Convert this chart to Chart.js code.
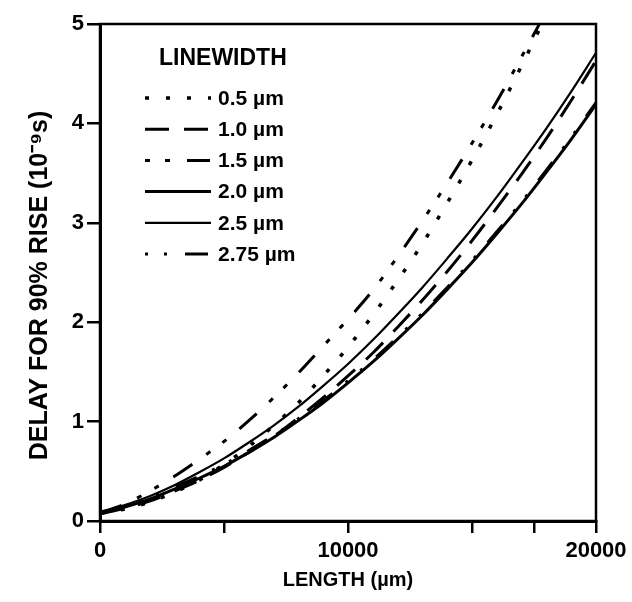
<!DOCTYPE html>
<html>
<head>
<meta charset="utf-8">
<script src="https://cdn.jsdelivr.net/npm/chart.js@4.4.0/dist/chart.umd.min.js"></script>
<style>
  body { margin: 0; background: #fff; }
  #wrap { width: 632px; height: 602px; }
</style>
</head>
<body>
<div id="wrap"><canvas id="myChart" width="632" height="602"></canvas></div>
<script>
// length along the line, um
const lengths = [0, 1000, 2000, 3000, 4000, 5000, 6000, 7000, 8000, 9000, 10000,
  11000, 12000, 13000, 14000, 15000, 16000, 17000, 18000, 19000, 20000]

// delay for 90% rise, 1e-9 s
const delay05 = [0.08, 0.12, 0.19, 0.29, 0.41, 0.57, 0.75, 0.96, 1.19, 1.46, 1.75,
  2.07, 2.42, 2.79, 3.20, 3.63, 4.09, 4.58, 5.09]
const delay10 = [0.07, 0.13, 0.20, 0.30, 0.41, 0.54, 0.69, 0.85, 1.04, 1.24, 1.46,
  1.69, 1.95, 2.22, 2.51, 2.82, 3.15, 3.49, 3.85, 4.23, 4.63]
const delay15 = [0.08, 0.17, 0.30, 0.45, 0.62, 0.80, 1.01, 1.24, 1.49, 1.76, 2.03,
  2.32, 2.66, 3.02, 3.40, 3.80, 4.22, 4.67, 5.13]
const delay20 = [0.08, 0.14, 0.22, 0.32, 0.43, 0.55, 0.69, 0.84, 1.01, 1.19, 1.39,
  1.60, 1.83, 2.07, 2.33, 2.60, 2.89, 3.19, 3.51, 3.84, 4.19]
const delay25 = [0.08, 0.16, 0.25, 0.36, 0.49, 0.63, 0.79, 0.96, 1.15, 1.36, 1.58,
  1.82, 2.08, 2.35, 2.64, 2.94, 3.26, 3.60, 3.95, 4.32, 4.71]
const delay275 = [0.09, 0.15, 0.24, 0.34, 0.45, 0.57, 0.71, 0.86, 1.03, 1.21, 1.41,
  1.62, 1.85, 2.09, 2.35, 2.62, 2.91, 3.21, 3.53, 3.86, 4.21]

const widthLabels = ["0.5 µm", "1.0 µm", "1.5 µm", "2.0 µm", "2.5 µm", "2.75 µm"]
const xTickValues = [0, 5000, 10000, 15000, 17500, 20000]
const xTickLabels = [0, 10000, 20000]
const yTickValues = [0, 1, 2, 3, 4, 5]
const yTitle = "DELAY FOR 90% RISE (10⁻⁹s)"
const xTitle = "LENGTH (µm)"

const FONT = "'Liberation Sans', Arial, Helvetica, sans-serif"

const toPoints = arr => arr.map((y, i) => ({ x: lengths[i], y: y }))

const mkSet = (label, arr, dash, width) => ({
  label: label,
  data: toPoints(arr),
  borderColor: "#000",
  borderWidth: width,
  borderDash: dash,
  borderCapStyle: "butt",
  pointRadius: 0,
  fill: false,
  cubicInterpolationMode: "monotone",
})

// box round the plot area + rotated y title
const frame = {
  id: "frame",
  afterDatasetsDraw(chart) {
    const { ctx, chartArea } = chart
    ctx.save()
    ctx.strokeStyle = "#000"
    ctx.lineWidth = 2.5
    ctx.strokeRect(chartArea.left, chartArea.top, chartArea.width, chartArea.height)
    ctx.translate(40, chartArea.top + chartArea.height / 2 + 13)
    ctx.rotate(-Math.PI / 2)
    ctx.fillStyle = "#000"
    ctx.textAlign = "center"
    ctx.textBaseline = "middle"
    ctx.font = "bold 25px " + FONT
    ctx.fillText(yTitle, 0, 0)
    ctx.restore()
  },
}

// legend block inside the plot
const lineLegend = {
  id: "lineLegend",
  afterDraw(chart) {
    const { ctx } = chart
    ctx.save()
    ctx.fillStyle = "#000"
    ctx.textBaseline = "middle"
    ctx.font = "bold 23px " + FONT
    ctx.fillText("LINEWIDTH", 159, 59)
    ctx.font = "bold 21px " + FONT
    chart.data.datasets.forEach((ds, i) => {
      const y = 98 + i * 31.2
      ctx.beginPath()
      ctx.lineWidth = ds.borderWidth
      ctx.strokeStyle = "#000"
      ctx.setLineDash(ds.borderDash)
      ctx.lineDashOffset = ds.legendOffset || 0
      ctx.moveTo(145, y)
      ctx.lineTo(211, y)
      ctx.stroke()
      ctx.setLineDash([])
      ctx.fillText(ds.label, 218, y + 1)
    })
    ctx.restore()
  },
}

const sets = [
  mkSet(widthLabels[0], delay05, [4, 17], 3.5),
  mkSet(widthLabels[1], delay10, [24, 15], 3),
  mkSet(widthLabels[2], delay15, [23, 17, 5, 15, 5, 17], 3),
  mkSet(widthLabels[3], delay20, [], 3),
  mkSet(widthLabels[4], delay25, [], 2.2),
  mkSet(widthLabels[5], delay275, [23, 17, 3, 16, 3, 18], 3),
]
sets[2].legendOffset = 40
sets[5].legendOffset = 40

const config = {
  type: "line",
  data: { datasets: sets },
  options: {
    responsive: false,
    animation: false,
    layout: { padding: { top: 24, right: 36, left: 0, bottom: 0 } },
    plugins: {
      legend: { display: false },
      tooltip: { enabled: false },
    },
    scales: {
      x: {
        type: "linear",
        min: 0,
        max: 20000,
        afterBuildTicks: scale => {
          scale.ticks = xTickValues.map(v => ({ value: v }))
        },
        afterFit: scale => {
          scale.height = 81
        },
        ticks: {
          autoSkip: false,
          maxRotation: 0,
          padding: 5,
          color: "#000",
          font: { family: FONT, size: 22, weight: "bold" },
          callback: v => (xTickLabels.includes(v) ? String(v) : ""),
        },
        grid: { drawOnChartArea: false, tickLength: 12, color: "#000", lineWidth: 2.5 },
        border: { color: "#000", width: 3 },
        title: {
          display: true,
          text: xTitle,
          color: "#000",
          font: { family: FONT, size: 20, weight: "bold" },
          padding: { bottom: 10 },
        },
      },
      y: {
        min: 0,
        max: 5,
        afterBuildTicks: scale => {
          scale.ticks = yTickValues.map(v => ({ value: v }))
        },
        afterFit: scale => {
          scale.width = 100
        },
        ticks: {
          padding: 3,
          color: "#000",
          font: { family: FONT, size: 22, weight: "bold" },
        },
        grid: { drawOnChartArea: false, tickLength: 13, color: "#000", lineWidth: 2.5 },
        border: { color: "#000", width: 3 },
      },
    },
  },
  plugins: [frame, lineLegend],
}

new Chart(document.getElementById("myChart"), config)
</script>
</body>
</html>
